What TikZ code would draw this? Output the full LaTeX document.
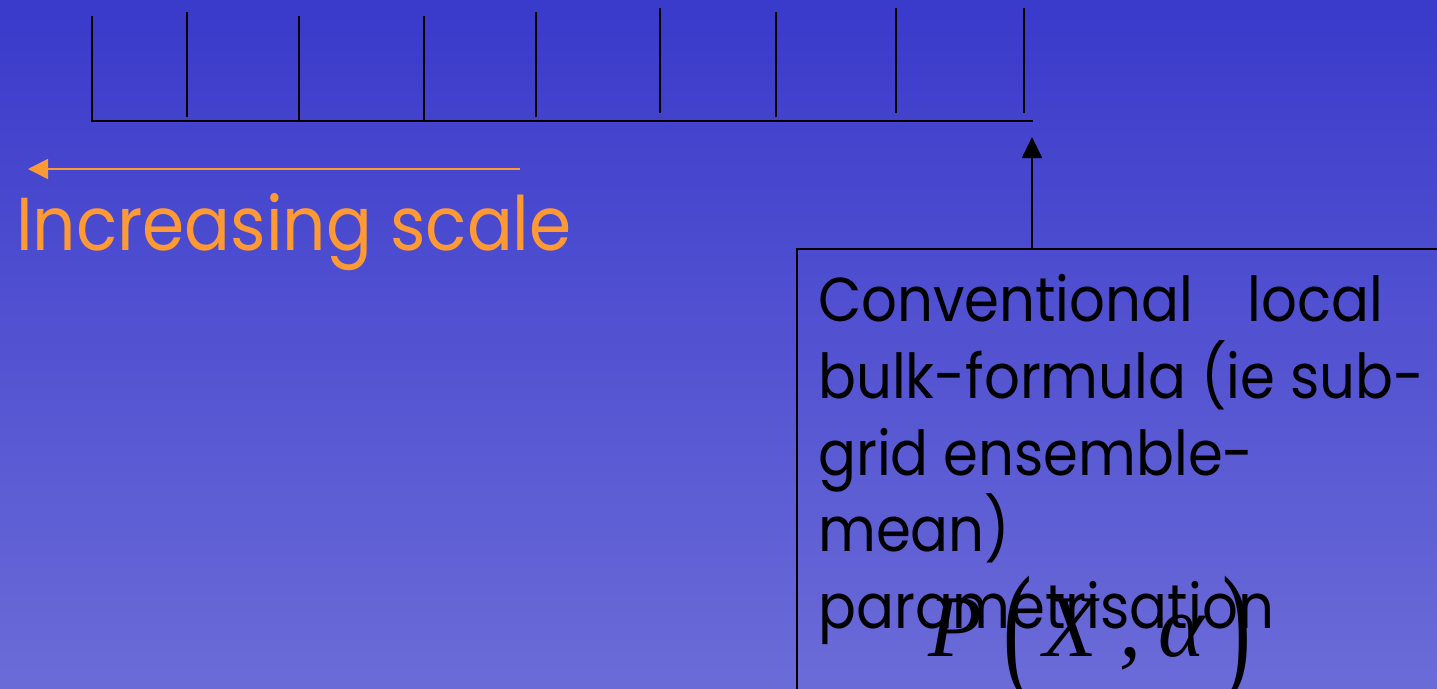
\documentclass[tikz,border=0pt]{standalone}
\usepackage{fontspec}
\usepackage{graphicx}
\setmainfont{Poppins}
\newfontfamily\mathserif{Liberation Serif}
\usetikzlibrary{arrows.meta}
\definecolor{bgtop}{RGB}{58,58,203}
\definecolor{bgbot}{RGB}{107,107,216}
\definecolor{scaleorange}{RGB}{255,153,51}
\newcommand{\narrow}[1]{\scalebox{0.905}[1]{#1}}
\tikzset{
  tick/.style={line width=2pt, black},
  baseaxis/.style={line width=2pt, black},
  scalearrow/.style={line width=1.6pt, scaleorange, -{Triangle[length=20pt,width=20pt]}},
  pointer/.style={line width=1.8pt, black, -{Triangle[length=21pt,width=20pt]}},
  boxline/.style={anchor=base west, inner sep=0pt, font=\fontsize{62}{62}\selectfont, text=black},
  mathglyph/.style={anchor=base, inner sep=0pt, font=\mathserif\itshape\fontsize{88}{88}\selectfont, text=black},
  bigparen/.style={anchor=center, inner sep=0pt, font=\mathserif\fontsize{86}{86}\selectfont, text=black},
}
\begin{document}
\begin{tikzpicture}[x=1pt,y=-1pt]
\useasboundingbox (0,0) rectangle (1437,688);
\shade[top color=bgtop, bottom color=bgbot] (0,0) rectangle (1437,688);

% axis with ticks
\coordinate (axL) at (91,121);
\coordinate (axR) at (1033,121);
\draw[baseaxis] (axL) -- (axR);
\foreach \x/\t/\b [count=\i] in {91.7/16/121,187.3/12/117,299.3/16/121,423.7/16/121,535.7/12/117,659.7/8/113,776/12/117,896/8/113,1024/8/113}{
  \coordinate (tt\i) at (\x,\t);
  \coordinate (tb\i) at (\x,\b);
  \draw[tick] (tt\i) -- (tb\i);
}

% increasing scale arrow
\coordinate (sa1) at (520,169);
\coordinate (sa2) at (28,169);
\draw[scalearrow] (sa1) -- (sa2);
\node[anchor=base west, inner sep=0pt, text=scaleorange, font=\fontsize{75}{75}\selectfont] (inc) at (16,250.7) {\narrow{Increasing scale}};

% box
\node[draw=black, line width=2pt, anchor=north west, minimum width=700pt, minimum height=500pt, inner sep=0pt] (box) at (796,248) {};
\coordinate (boxtop) at (1032,248);
\coordinate (tip) at (1032,137);
\draw[pointer] (boxtop) -- (tip);

\node[boxline] (l1) at (818,321.7) {\narrow{Conventional\hspace{0.7em} local}};
\node[boxline] (l2) at (818,398.4) {\narrow{bulk-formula (ie sub-}};
\node[boxline] (l3) at (818,475.1) {\narrow{grid ensemble-}};
\node[boxline] (l4) at (818,551.8) {\narrow{mean)}};
\node[boxline] (l5) at (818,628.5) {\narrow{parametrisation}};

% formula P(X, alpha)
\node[mathglyph] (P) at (955,656.5) {P};
\node[bigparen] (lp) at (1018,640) {\scalebox{1}[1.65]{(}};
\node[mathglyph] (X) at (1070,656.5) {X};
\node[mathglyph] (cm) at (1130,656.5) {,};
\node[mathglyph] (al) at (1182,656.5) {α};
\node[bigparen] (rp) at (1237,640) {\scalebox{1}[1.65]{)}};
\end{tikzpicture}
\end{document}
